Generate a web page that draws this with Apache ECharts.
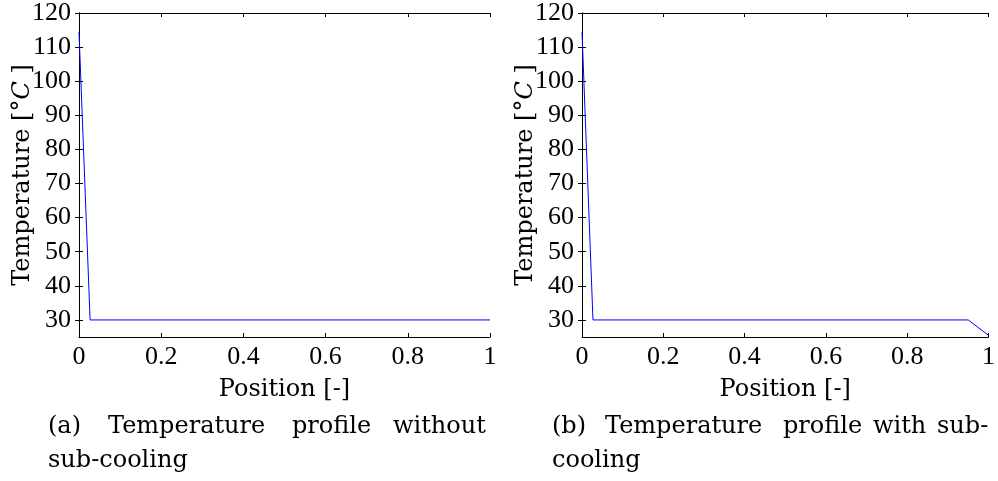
<!DOCTYPE html>
<html><head><meta charset="utf-8">
<script src="https://cdn.jsdelivr.net/npm/echarts@6/dist/echarts.min.js"></script>
<style>html,body{margin:0;padding:0;background:#fff}#c{width:998px;height:481px}</style>
</head><body><div id="c"></div>
<script>
// ---- data ----
const posA = [0, 0.027, 1];
const tempA = [114.5, 30, 30];
const posB = [0, 0.027, 0.95, 1];
const tempB = [114.5, 30, 30, 25.5];
const yTicks = [30, 40, 50, 60, 70, 80, 90, 100, 110, 120];
const xTicks = [0, 0.2, 0.4, 0.6, 0.8, 1];
const captionA = [["(a)", "Temperature", "profile", "without"], ["sub-cooling"]];
const captionB = [["(b)", "Temperature", "profile", "with", "sub-"], ["cooling"]];

const NUMFONT = 'Liberation Serif';
const TXTFONT = 'DejaVu Serif';
const chart = echarts.init(document.getElementById('c'), null, {renderer: 'canvas'});

const grids = [
  {left: 79, top: 13, width: 411, height: 324},
  {left: 582, top: 13, width: 411, height: 324}
];

function xAxes(gi) {
  const base = {
    type: 'value', gridIndex: gi, min: 0, max: 1, interval: 0.2,
    axisLine: {show: true, lineStyle: {color: '#000', width: 1}},
    axisTick: {show: true, inside: true, length: 4, lineStyle: {color: '#000'}},
    splitLine: {show: false}
  };
  return [
    Object.assign({}, base, {
      position: 'bottom',
      axisLabel: {show: true, margin: 7, color: '#000', fontFamily: NUMFONT, fontSize: 26,
        formatter: v => { const t = xTicks.find(x => Math.abs(x - v) < 1e-9); return t === undefined ? '' : String(t); }},
      name: 'Position [-]', nameLocation: 'middle', nameGap: 41, nameMoveOverlap: false,
      nameTextStyle: {color: '#000', fontFamily: TXTFONT, fontSize: 24}
    }),
    Object.assign({}, base, {position: 'top', axisLabel: {show: false}})
  ];
}
function yAxes(gi) {
  const base = {
    type: 'value', gridIndex: gi, min: 25, max: 120,
    axisLine: {show: true, lineStyle: {color: '#000', width: 1}},
    axisTick: {show: true, inside: true, length: 4, customValues: yTicks, lineStyle: {color: '#000'}},
    splitLine: {show: false}
  };
  return [
    Object.assign({}, base, {
      position: 'left',
      axisLabel: {show: true, margin: 8, color: '#000', fontFamily: NUMFONT, fontSize: 26, customValues: yTicks},
      name: 'Temperature [°{i|C} ]', nameLocation: 'middle', nameGap: 44, nameMoveOverlap: false,
      nameTextStyle: {color: '#000', fontFamily: TXTFONT, fontSize: 24,
        rich: {i: {fontStyle: 'italic', fontFamily: TXTFONT, fontSize: 24, color: '#000'}}}
    }),
    Object.assign({}, base, {position: 'right', axisLabel: {show: false}})
  ];
}

function captionGraphics(lines, xs, ys) {
  const out = [];
  lines.forEach((words, li) => {
    words.forEach((w, wi) => {
      out.push({type: 'text', left: xs[li][wi], top: ys[li],
        style: {text: w, font: '24px "' + TXTFONT + '"', fill: '#000'}});
    });
  });
  return out;
}

const option = {
  animation: false,
  backgroundColor: '#fff',
  grid: grids,
  xAxis: [...xAxes(0), ...xAxes(1)],
  yAxis: [...yAxes(0), ...yAxes(1)],
  series: [
    {type: 'line', xAxisIndex: 0, yAxisIndex: 0, showSymbol: false, symbol: 'none',
      lineStyle: {color: '#0000ff', width: 1}, data: posA.map((x, i) => [x, tempA[i]])},
    {type: 'line', xAxisIndex: 2, yAxisIndex: 2, showSymbol: false, symbol: 'none',
      lineStyle: {color: '#0000ff', width: 1}, data: posB.map((x, i) => [x, tempB[i]])}
  ],
  graphic: [
    ...captionGraphics(captionA, [[48, 108, 292, 393], [48]], [415, 449]),
    ...captionGraphics(captionB, [[552, 605, 783, 873, 937], [552]], [415, 449])
  ]
};
chart.setOption(option);
</script></body></html>
